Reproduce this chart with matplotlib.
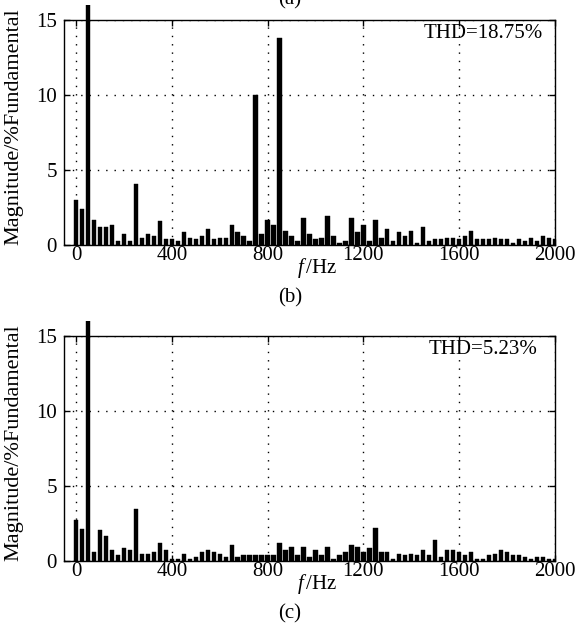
import numpy as np
import matplotlib
matplotlib.use('Agg')
import matplotlib.pyplot as plt
from matplotlib.patches import Rectangle

plt.rcParams['font.family'] = 'Liberation Serif'
plt.rcParams['mathtext.fontset'] = 'custom'
plt.rcParams['mathtext.rm'] = 'Liberation Serif'
plt.rcParams['mathtext.it'] = 'Liberation Serif:italic'

# harmonic spectrum, 25 Hz resolution, 0 ~ 2000 Hz
freq = np.arange(0, 2025, 25)

# (b) magnitude in % of fundamental
mag_b = [3.0, 2.4, 100, 1.67, 1.23, 1.23, 1.34, 0.26, 0.75, 0.26,
         4.08, 0.48, 0.75, 0.61, 1.58, 0.37, 0.37, 0.26, 0.86, 0.48,
         0.37, 0.61, 1.1, 0.37, 0.48, 0.48, 1.32, 0.86, 0.61, 0.26,
         10.0, 0.75, 1.67, 1.34, 13.8, 0.96, 0.61, 0.26, 1.82, 0.75,
         0.37, 0.48, 1.95, 0.61, 0.13, 0.26, 1.82, 0.86, 1.32, 0.26,
         1.67, 0.48, 1.1, 0.26, 0.86, 0.61, 0.96, 0.13, 1.23, 0.26,
         0.37, 0.37, 0.48, 0.48, 0.37, 0.61, 0.96, 0.37, 0.37, 0.37,
         0.48, 0.37, 0.37, 0.13, 0.37, 0.26, 0.48, 0.26, 0.61, 0.48,
         0.4]

# (c)
mag_c = [2.76, 2.15, 100, 0.61, 2.04, 1.67, 0.72, 0.37, 0.86, 0.72,
         3.46, 0.48, 0.48, 0.61, 1.21, 0.72, 0.13, 0.13, 0.48, 0.13,
         0.26, 0.61, 0.72, 0.61, 0.48, 0.26, 1.05, 0.26, 0.37, 0.37,
         0.37, 0.37, 0.37, 0.37, 1.21, 0.72, 0.96, 0.37, 0.96, 0.26,
         0.72, 0.37, 0.96, 0.13, 0.37, 0.61, 1.1, 0.96, 0.61, 0.86,
         2.17, 0.61, 0.61, 0.13, 0.48, 0.37, 0.48, 0.37, 0.72, 0.37,
         1.43, 0.26, 0.72, 0.72, 0.61, 0.37, 0.61, 0.13, 0.13, 0.37,
         0.48, 0.72, 0.61, 0.37, 0.37, 0.26, 0.13, 0.26, 0.26, 0.13,
         0.13]

thd = ['THD=18.75%', 'THD=5.23%']
labels = ['(b)', '(c)']

fig = plt.figure(figsize=(5.76, 6.36), dpi=100)
W, H = 576., 636.
ax_b = fig.add_axes([64/W, 1-245/H, 491/W, 225/H])
ax_c = fig.add_axes([64/W, 1-561/H, 491/W, 225/H])

fs = 15
for ax, mag, txt, lab, thd_x in [(ax_b, mag_b, thd[0], labels[0], 0.975),
                                 (ax_c, mag_c, thd[1], labels[1], 0.965)]:
    bars = ax.bar(freq, mag, width=18, color='k', edgecolor='k', lw=0.3, zorder=2)
    # the fundamental pokes a bit out of the frame, like the matlab figure
    clip = Rectangle((0, 0), 1, 16/15., transform=ax.transAxes, fill=False, visible=False)
    ax.add_patch(clip)
    for b in bars:
        b.set_clip_path(clip)
    ax.set_xlim(-50, 2000)
    ax.set_ylim(0, 15)
    ax.set_xticks([0, 400, 800, 1200, 1600, 2000])
    ax.set_yticks([0, 5, 10, 15])
    ax.set_axisbelow(True)
    ax.grid(True, color='k', ls=(0, (1, 5)), lw=1.0)
    ax.tick_params(direction='in', top=True, right=True, length=4, width=1,
                   labelsize=fs)
    ax.tick_params(axis='x', pad=1)
    ax.tick_params(axis='y', pad=5)
    for s in ax.spines.values():
        s.set_linewidth(1.0)
    ax.set_ylabel('Magnitude/%Fundamental', fontsize=16)
    ax.yaxis.set_label_coords(-0.082, 0.525)
    ax.text(thd_x, 0.94, txt, transform=ax.transAxes, ha='right', va='center',
            fontsize=fs)
    ax.text(0.515, -0.1, r'$f\,$/Hz', transform=ax.transAxes, ha='center',
            va='center', fontsize=fs)
    ax.text(0.46, -0.235, lab, transform=ax.transAxes, ha='center',
            va='center', fontsize=fs)

# bottom of the "(a)" caption cut by the page edge
fig.text(290/W, 1-4/H, '(a)', ha='center', va='baseline', fontsize=fs)

fig.savefig('out.png', dpi=100)
